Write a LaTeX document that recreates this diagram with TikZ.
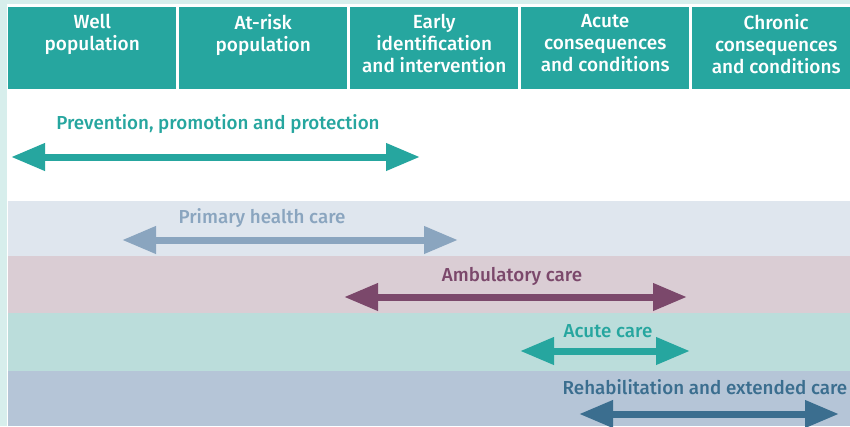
\documentclass[tikz,border=0pt]{standalone}
\usepackage{fontspec}
\setmainfont{Fira Sans}[BoldFont={* Medium}]
\usepackage{tikz}
\usetikzlibrary{arrows.meta}
\usetikzlibrary{positioning}
\definecolor{stageteal}{HTML}{26A69F}
\definecolor{edgestrip}{HTML}{D7EEEC}
\definecolor{primfill}{HTML}{DFE6EE}
\definecolor{ambfill}{HTML}{DACDD4}
\definecolor{acutefill}{HTML}{BBDDDB}
\definecolor{rehabfill}{HTML}{B5C5D7}
\definecolor{primline}{HTML}{8AA5BF}
\definecolor{ambline}{HTML}{7B486B}
\definecolor{rehabline}{HTML}{3B6E8F}
\tikzset{
stage/.style={
  rectangle,
  fill=stageteal,
  minimum width=168pt,
  minimum height=82pt,
  inner sep=0pt,
  anchor=north west
},
stagetext/.style={
  text=white,
  font=\bfseries\fontsize{19}{22}\selectfont,
  align=center,
  anchor=north,
  inner sep=0pt
},
band/.style={rectangle,inner sep=0pt,minimum width=842pt,anchor=north west},
caretext/.style={font=\bfseries\fontsize{18.8}{22}\selectfont,anchor=base,inner sep=0pt},
span/.style={line width=7pt,{Triangle[length=34pt,width=26pt]}-{Triangle[length=34pt,width=26pt]}},
}

\begin{document}
\begin{tikzpicture}[x=1pt,y=-1pt]
\clip (0,0) rectangle (850,426);
\fill[edgestrip] (0,0) rectangle (850,426);
\fill[white] (7,4) rectangle (850,426);
% the stages
\foreach \i/\txt in {1/{Well\\population},2/{At-risk\\population},3/{Early\\identification\\and intervention},4/{Acute\\consequences\\and conditions},5/{Chronic\\consequences\\and conditions}}
{
  \node[stage] (stage\i) at ({8+171*(\i-1)},7) {};
  \node[stagetext] (stage\i-text) at ([yshift=-7pt]stage\i.north) {\txt};
}
% the bands
\node[band,fill=primfill,minimum height=55pt] (primary) at (8,201) {};
\node[band,fill=ambfill,minimum height=57pt] (ambulatory) at (8,256) {};
\node[band,fill=acutefill,minimum height=58pt] (acute) at (8,313) {};
\node[band,fill=rehabfill,minimum height=55pt] (rehab) at (8,371) {};
% the labels
\node[caretext,text=stageteal] (prevention-text) at (218,129) {Prevention, promotion and protection};
\node[caretext,text=primline] (primary-text) at (262,223) {Primary health care};
\node[caretext,text=ambline] (ambulatory-text) at (512,281) {Ambulatory care};
\node[caretext,text=stageteal] (acute-text) at (608,337) {Acute care};
\node[caretext,text=rehabline] (rehab-text) at (705,394) {Rehabilitation and extended care};
% the arrows
\coordinate (prevention-l) at (11,157);
\coordinate (prevention-r) at (420,157);
\coordinate (primary-l) at (122,240);
\coordinate (primary-r) at (458,240);
\coordinate (ambulatory-l) at (344,297);
\coordinate (ambulatory-r) at (687,297);
\coordinate (acute-l) at (520,351);
\coordinate (acute-r) at (690,351);
\coordinate (rehab-l) at (579,414);
\coordinate (rehab-r) at (839,414);
\draw[span,stageteal] (prevention-l) -- (prevention-r);
\draw[span,primline] (primary-l) -- (primary-r);
\draw[span,ambline] (ambulatory-l) -- (ambulatory-r);
\draw[span,stageteal] (acute-l) -- (acute-r);
\draw[span,rehabline] (rehab-l) -- (rehab-r);
\end{tikzpicture}
\end{document}
